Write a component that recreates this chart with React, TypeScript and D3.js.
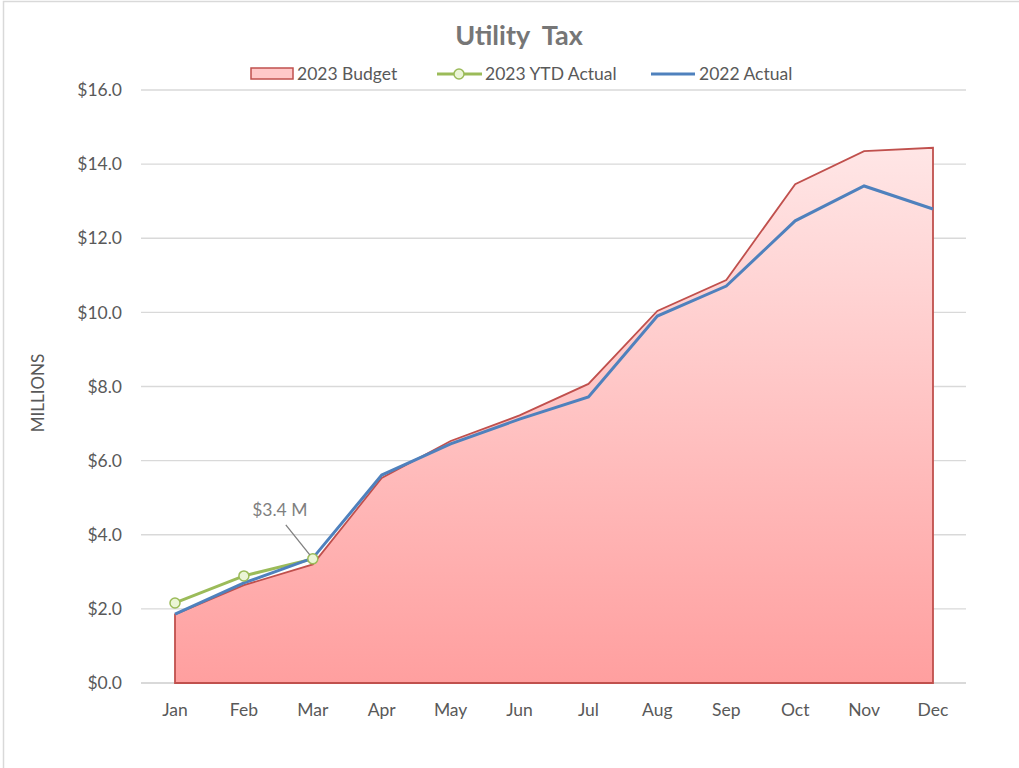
import { useEffect, useRef } from "react";
import * as d3 from "d3";

const months = ["Jan", "Feb", "Mar", "Apr", "May", "Jun", "Jul", "Aug", "Sep", "Oct", "Nov", "Dec"];
const budget2023 = [1.85, 2.64, 3.2, 5.53, 6.53, 7.22, 8.07, 10.04, 10.87, 13.46, 14.35, 14.44];
const actual2022 = [1.86, 2.7, 3.37, 5.61, 6.45, 7.12, 7.72, 9.9, 10.71, 12.47, 13.41, 12.79];
const ytd2023 = [2.16, 2.89, 3.35];
const yTicks = [0, 2, 4, 6, 8, 10, 12, 14, 16];

const W = 1019;
const H = 768;
const FONT = "Lato, 'Open Sans', sans-serif";
const FS = 17.5;

const App = () => {
  const ref = useRef<SVGSVGElement | null>(null);

  useEffect(() => {
    const svg = d3.select(ref.current);
    svg.selectAll("*").remove();

    // chart border
    svg.append("rect").attr("x", 3.5).attr("y", 1.5).attr("width", W + 10).attr("height", H + 10)
      .attr("fill", "#fff").attr("stroke", "#d9d9d9").attr("stroke-width", 1.5);

    const x = d3.scalePoint<string>().domain(months).range([175, 933]);
    const y = d3.scaleLinear().domain([0, 16]).range([683, 90]);

    const defs = svg.append("defs");
    const grad = defs.append("linearGradient").attr("id", "budgetFill")
      .attr("x1", 0).attr("y1", 0).attr("x2", 0).attr("y2", 1);
    grad.append("stop").attr("offset", "0%").attr("stop-color", "#ffe6e6");
    grad.append("stop").attr("offset", "100%").attr("stop-color", "#ff9f9f");

    // gridlines
    svg.append("g").selectAll("line").data(yTicks).enter().append("line")
      .attr("x1", 141).attr("x2", 966)
      .attr("y1", (d) => y(d)).attr("y2", (d) => y(d))
      .attr("stroke", "#d9d9d9").attr("stroke-width", (d) => (d === 0 ? 2 : 1.3));

    // y labels
    svg.append("g").selectAll("text").data(yTicks).enter().append("text")
      .attr("x", 122).attr("y", (d) => y(d)).attr("dy", "0.35em")
      .attr("text-anchor", "end").attr("font-family", FONT).attr("font-size", FS)
      .attr("fill", "#595959").text((d) => `$${d.toFixed(1)}`);

    // x labels
    svg.append("g").selectAll("text").data(months).enter().append("text")
      .attr("x", (d) => x(d)!).attr("y", 716)
      .attr("text-anchor", "middle").attr("font-family", FONT).attr("font-size", FS)
      .attr("fill", "#595959").text((d) => d);

    svg.append("text").attr("transform", "translate(44,393) rotate(-90)")
      .attr("text-anchor", "middle").attr("font-family", FONT).attr("font-size", 17)
      .attr("fill", "#595959").text("MILLIONS");

    // budget area
    const area = d3.area<number>()
      .x((_, i) => x(months[i])!)
      .y0(y(0)).y1((d) => y(d));
    svg.append("path").datum(budget2023).attr("d", area)
      .attr("fill", "url(#budgetFill)").attr("stroke", "#c0504d").attr("stroke-width", 1.8);

    const line = d3.line<number>().x((_, i) => x(months[i])!).y((d) => y(d));

    svg.append("path").datum(ytd2023).attr("d", line)
      .attr("fill", "none").attr("stroke", "#9bbb59").attr("stroke-width", 3);

    svg.append("path").datum(actual2022).attr("d", line)
      .attr("fill", "none").attr("stroke", "#4f81bd").attr("stroke-width", 3);

    svg.append("g").selectAll("circle").data(ytd2023).enter().append("circle")
      .attr("cx", (_, i) => x(months[i])!).attr("cy", (d) => y(d)).attr("r", 5)
      .attr("fill", "#ebf5d6").attr("stroke", "#9bbb59").attr("stroke-width", 1.5);

    // data label for latest YTD
    const lastI = ytd2023.length - 1;
    const lx = x(months[lastI])!;
    const ly = y(ytd2023[lastI]);
    svg.append("line").attr("x1", lx - 27).attr("y1", ly - 34).attr("x2", lx - 3).attr("y2", ly - 4)
      .attr("stroke", "#7f7f7f").attr("stroke-width", 1.3);
    svg.append("text").attr("x", lx - 33).attr("y", ly - 43)
      .attr("text-anchor", "middle").attr("font-family", FONT).attr("font-size", FS)
      .attr("fill", "#7f7f7f").text(`$${ytd2023[lastI].toFixed(1)} M`);

    // title
    svg.append("text").attr("x", 519).attr("y", 45).attr("text-anchor", "middle")
      .attr("font-family", FONT).attr("font-size", 27).attr("font-weight", "bold")
      .attr("fill", "#767676").style("white-space", "pre").text("Utility  Tax");

    // legend
    const lg = svg.append("g").attr("font-family", FONT).attr("font-size", FS).attr("fill", "#595959");
    lg.append("rect").attr("x", 251).attr("y", 68).attr("width", 42).attr("height", 11)
      .attr("fill", "#ffc9c9").attr("stroke", "#c0504d").attr("stroke-width", 1.5);
    lg.append("text").attr("x", 297).attr("y", 74).attr("dy", "0.35em").text("2023 Budget");
    lg.append("line").attr("x1", 437).attr("x2", 482).attr("y1", 74).attr("y2", 74)
      .attr("stroke", "#9bbb59").attr("stroke-width", 3);
    lg.append("circle").attr("cx", 459).attr("cy", 74).attr("r", 5)
      .attr("fill", "#ebf5d6").attr("stroke", "#9bbb59").attr("stroke-width", 1.5);
    lg.append("text").attr("x", 485).attr("y", 74).attr("dy", "0.35em").text("2023 YTD Actual");
    lg.append("line").attr("x1", 651).attr("x2", 695).attr("y1", 74).attr("y2", 74)
      .attr("stroke", "#4f81bd").attr("stroke-width", 3);
    lg.append("text").attr("x", 699).attr("y", 74).attr("dy", "0.35em").text("2022 Actual");
  }, []);

  return (
    <svg ref={ref} width={W} height={H}
      style={{ position: "absolute", left: 0, top: 0, display: "block" }} />
  );
};

export default App;
